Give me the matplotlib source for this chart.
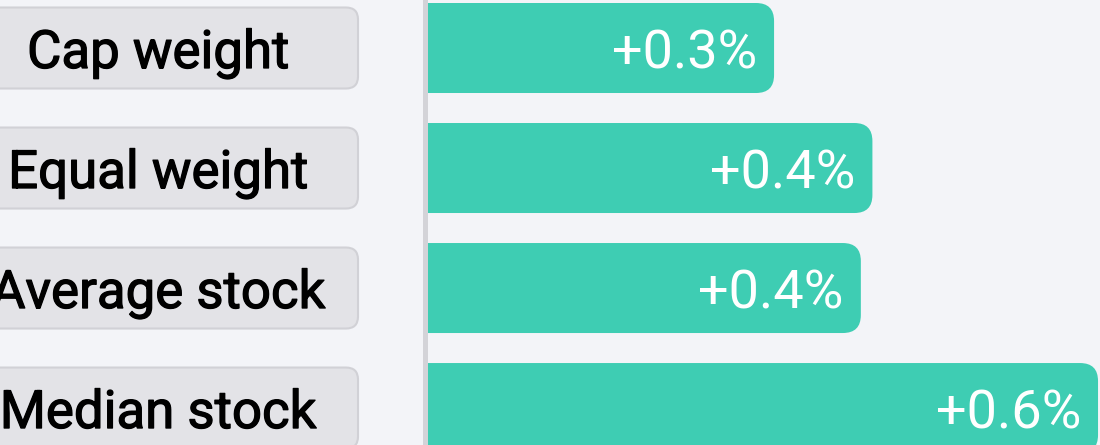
import matplotlib
matplotlib.use("Agg")
import matplotlib.pyplot as plt
import matplotlib.patheffects as pe
from matplotlib.patches import FancyBboxPatch, Rectangle

categories = ["Cap weight", "Equal weight", "Average stock", "Median stock"]
values = [0.30, 0.385, 0.375, 0.58]
value_labels = ["+0.3%", "+0.4%", "+0.4%", "+0.6%"]

bg = "#f3f4f8"
bar_color = "#3ecdb3"
box_fill = "#e3e3e7"
box_edge = "#d1d1d6"
axis_color = "#d3d3d8"

W, H = 1100, 445
fig = plt.figure(figsize=(W / 100, H / 100), dpi=100, facecolor=bg)
ax = fig.add_axes([0, 0, 1, 1])
ax.set_facecolor(bg)

x0, x1 = -0.369, 0.5817
y0, y1 = 3.308, -0.4
ax.set_xlim(x0, x1)
ax.set_ylim(y0, y1)
ax.axis("off")

# pixel -> data helpers for layout only
sx = (x1 - x0) / W
sy = (y0 - y1) / H
def px(p):
    return x0 + p * sx

ys = list(range(len(categories)))
bars = ax.barh(ys, values, height=90 * sy, color="none")

r = 18
rx, ry = r * sx, r * sy
clip = Rectangle((0, y1), x1, y0 - y1, transform=ax.transData)
for b, lab in zip(bars, value_labels):
    bx, by, bw, bh = b.get_x(), b.get_y(), b.get_width(), b.get_height()
    b.remove()
    p = FancyBboxPatch((bx - rx, by), bw + rx, bh,
                       boxstyle=f"round,pad=0,rounding_size={rx}",
                       mutation_aspect=ry / rx, fc=bar_color, ec="none")
    ax.add_patch(p)
    p.set_clip_path(clip)
    ax.text(bx + bw - 17 * sx, by + bh / 2, lab, ha="right", va="center_baseline",
            color="white", fontsize=39, family="Roboto")

# category label boxes
bw_px = 401
bh_px = 81
rb = 12
for y, cat in zip(ys, categories):
    p = FancyBboxPatch((px(-43), y - bh_px * sy / 2), bw_px * sx, bh_px * sy,
                       boxstyle=f"round,pad=0,rounding_size={rb * sx}",
                       mutation_aspect=(rb * sy) / (rb * sx),
                       fc=box_fill, ec=box_edge, lw=1.5, clip_on=False)
    ax.add_patch(p)
    ax.text(px(158), y, cat, ha="center", va="center_baseline",
            color="black", fontsize=38, family="Roboto",
            path_effects=[pe.withStroke(linewidth=0.9, foreground="black")])

ax.axvline(px(424.5), color=axis_color, lw=3.6)

fig.savefig("out.png", dpi=100, facecolor=bg)
